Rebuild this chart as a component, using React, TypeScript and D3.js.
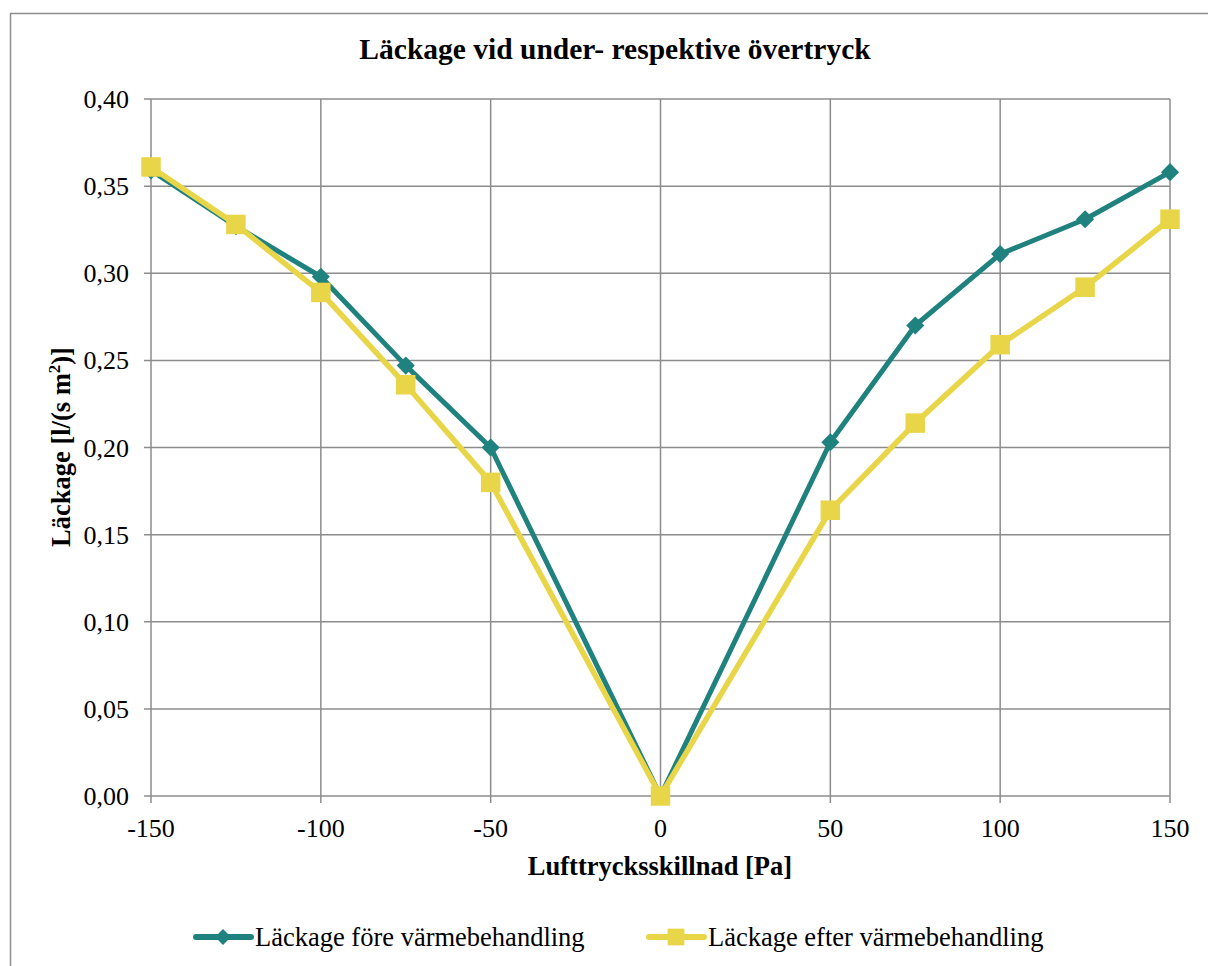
import { useEffect, useRef } from 'react';
import * as d3 from 'd3';

// Pressure difference [Pa]
const pressure = [-150, -125, -100, -75, -50, 0, 50, 75, 100, 125, 150];
// Leakage before heat treatment [l/(s m2)]
const before = [0.359, 0.327, 0.298, 0.247, 0.200, 0.0, 0.203, 0.270, 0.311, 0.331, 0.358];
// Leakage after heat treatment
const after = [0.361, 0.328, 0.289, 0.236, 0.180, 0.0, 0.164, 0.214, 0.259, 0.292, 0.331];

const xTicks = [-150, -100, -50, 0, 50, 100, 150];
const yTicks = [0, 0.05, 0.1, 0.15, 0.2, 0.25, 0.3, 0.35, 0.4];

const seriesNames = ['Läckage före värmebehandling', 'Läckage efter värmebehandling'];
const TEAL = '#1f827e';
const YELLOW = '#e8d548';
const GRID = '#8c8c8c';
const FONT = 'Liberation Serif';

export default function App() {
  const svgRef = useRef<SVGSVGElement | null>(null);

  useEffect(() => {
    if (!svgRef.current) return;
    const svg = d3.select(svgRef.current);
    svg.selectAll('*').remove();

    const plot = { left: 151, right: 1170, top: 99, bottom: 796 };

    // Outer frame (runs off the right and bottom edges like the original)
    svg.append('rect')
      .attr('x', 10.5).attr('y', 13.5)
      .attr('width', 1300).attr('height', 1100)
      .attr('fill', 'white')
      .attr('stroke', GRID).attr('stroke-width', 1.5);

    const x = d3.scaleLinear().domain([-150, 150]).range([plot.left, plot.right]);
    const y = d3.scaleLinear().domain([0, 0.4]).range([plot.bottom, plot.top]);

    // Grid lines + outward ticks
    const grid = svg.append('g');
    grid.selectAll('line.h').data(yTicks).join('line')
      .attr('x1', plot.left - 7).attr('x2', plot.right)
      .attr('y1', d => y(d)).attr('y2', d => y(d))
      .attr('stroke', GRID).attr('stroke-width', 1.5);
    grid.selectAll('line.v').data(xTicks).join('line')
      .attr('x1', d => x(d)).attr('x2', d => x(d))
      .attr('y1', plot.top).attr('y2', plot.bottom + 7)
      .attr('stroke', GRID).attr('stroke-width', 1.5);

    // Tick labels
    const fmt = (v: number) => v.toFixed(2).replace('.', ',');
    svg.append('g').selectAll('text').data(yTicks).join('text')
      .attr('x', plot.left - 22).attr('y', d => y(d))
      .attr('dy', '0.35em')
      .attr('text-anchor', 'end')
      .style('font-family', FONT).style('font-size', '26px')
      .text(d => fmt(d));
    svg.append('g').selectAll('text').data(xTicks).join('text')
      .attr('x', d => x(d)).attr('y', plot.bottom + 41)
      .attr('text-anchor', 'middle')
      .style('font-family', FONT).style('font-size', '26px')
      .text(d => String(d));

    // Titles
    svg.append('text')
      .attr('x', 615).attr('y', 59)
      .attr('text-anchor', 'middle')
      .style('font-family', FONT).style('font-size', '29.5px').style('font-weight', 'bold')
      .text('Läckage vid under- respektive övertryck');
    svg.append('text')
      .attr('x', 660).attr('y', 875)
      .attr('text-anchor', 'middle')
      .style('font-family', FONT).style('font-size', '26.5px').style('font-weight', 'bold')
      .text('Lufttrycksskillnad [Pa]');
    const yTitle = svg.append('text')
      .attr('transform', `translate(70, 447) rotate(-90)`)
      .attr('text-anchor', 'middle')
      .style('font-family', FONT).style('font-size', '26.5px').style('font-weight', 'bold');
    yTitle.append('tspan').text('Läckage [l/(s m');
    yTitle.append('tspan').style('font-size', '17px').attr('dy', -10).text('2');
    yTitle.append('tspan').attr('dy', 10).text(')]');

    const line = d3.line<number>()
      .x((_, i) => x(pressure[i]))
      .y(d => y(d));

    const diamond = d3.symbol().type(d3.symbolDiamond2).size(210);
    const square = d3.symbol().type(d3.symbolSquare).size(380);

    // Series 1: before (teal, diamonds)
    svg.append('path').datum(before)
      .attr('fill', 'none').attr('stroke', TEAL).attr('stroke-width', 5)
      .attr('stroke-linejoin', 'round')
      .attr('d', line);
    svg.append('g').selectAll('path').data(before).join('path')
      .attr('transform', (d, i) => `translate(${x(pressure[i])},${y(d)})`)
      .attr('d', diamond())
      .attr('fill', TEAL);

    // Series 2: after (yellow, squares)
    svg.append('path').datum(after)
      .attr('fill', 'none').attr('stroke', YELLOW).attr('stroke-width', 5.5)
      .attr('stroke-linejoin', 'round')
      .attr('d', line);
    svg.append('g').selectAll('path').data(after).join('path')
      .attr('transform', (d, i) => `translate(${x(pressure[i])},${y(d)})`)
      .attr('d', square())
      .attr('fill', YELLOW);

    // Legend
    const legendY = 937;
    const items = [
      { name: seriesNames[0], color: TEAL, x0: 196, sym: d3.symbol().type(d3.symbolDiamond2).size(160) },
      { name: seriesNames[1], color: YELLOW, x0: 649, sym: d3.symbol().type(d3.symbolSquare).size(280) },
    ];
    items.forEach(it => {
      const g = svg.append('g');
      g.append('line')
        .attr('x1', it.x0).attr('x2', it.x0 + 55)
        .attr('y1', legendY).attr('y2', legendY)
        .attr('stroke', it.color).attr('stroke-width', 6).attr('stroke-linecap', 'round');
      g.append('path')
        .attr('transform', `translate(${it.x0 + 27},${legendY})`)
        .attr('d', it.sym())
        .attr('fill', it.color);
      g.append('text')
        .attr('x', it.x0 + 59).attr('y', legendY)
        .attr('dy', '0.35em')
        .style('font-family', FONT).style('font-size', '26.5px')
        .text(it.name);
    });
  }, []);

  return (
    <svg
      ref={svgRef}
      width={1208}
      height={966}
      style={{ position: 'absolute', left: 0, top: 0, background: 'white' }}
    />
  );
}
